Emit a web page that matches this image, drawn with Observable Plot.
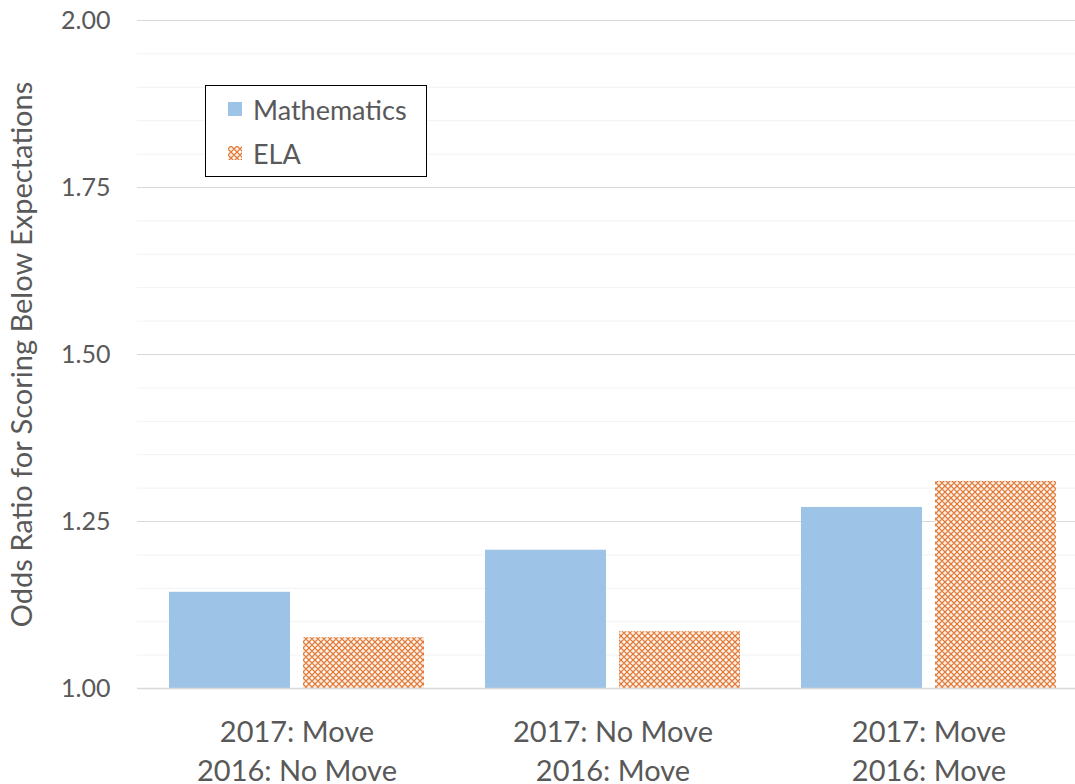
<!DOCTYPE html>
<html>
<head>
<meta charset="utf-8">
<script src="https://cdn.jsdelivr.net/npm/d3@7"></script>
<script src="https://cdn.jsdelivr.net/npm/@observablehq/plot@0.6"></script>
<style>
  body { margin: 0; background: #fff; font-family: Lato, "Open Sans", sans-serif; }
  #wrap { position: relative; width: 1075px; height: 784px; }
  #legend {
    position: absolute; left: 205px; top: 85px; width: 222px; height: 92px;
    border: 1px solid #000; background: #fff; box-sizing: border-box;
    font-family: Lato, sans-serif; font-size: 27px; color: #595959;
  }
  #legend .row { position: absolute; left: 22px; display: flex; align-items: center; height: 30px; }
  #legend .sw { width: 14px; height: 14px; margin-right: 11px; }
</style>
</head>
<body>
<div id="wrap"></div>
<script>
const categories = ["2017: Move\n2016: No Move", "2017: No Move\n2016: Move", "2017: Move\n2016: Move"];
const mathValues = [1.144, 1.207, 1.271];
const elaValues = [1.076, 1.085, 1.310];
const yTicks = [1.00, 1.25, 1.50, 1.75, 2.00];
const yMinorTicks = d3.range(1.05, 2.0, 0.05).filter(v => Math.abs(v * 4 - Math.round(v * 4)) > 1e-6);
const seriesNames = ["Mathematics", "ELA"];

const mathData = categories.map((c, i) => ({category: c, value: mathValues[i]}));
const elaData = categories.map((c, i) => ({category: c, value: elaValues[i]}));

const mathColor = "#9dc3e6";
const elaColor = "#e07b39";

const chart = Plot.plot({
  width: 1075,
  height: 784,
  marginLeft: 137,
  marginRight: 0,
  marginTop: 20,
  marginBottom: 96,
  style: {fontFamily: "Lato, 'Open Sans', sans-serif", color: "#595959", background: "#fff"},
  x: {domain: categories, range: [138.5, 1087], paddingInner: 0.192, paddingOuter: 0.096, label: null},
  y: {domain: [1, 2], label: null},
  marks: [
    Plot.ruleY(yMinorTicks, {stroke: "#f2f2f2", strokeWidth: 1}),
    Plot.ruleY(yTicks.slice(1), {stroke: "#d9d9d9", strokeWidth: 1}),
    Plot.barY(mathData, {x: "category", y1: 1, y2: "value", fill: mathColor, insetRight: 134}),
    Plot.barY(elaData, {x: "category", y1: 1, y2: "value", fill: "url(#elaPattern)", insetLeft: 134}),
    Plot.ruleY([1], {stroke: "#d9d9d9", strokeWidth: 1.5}),
    Plot.axisY({ticks: yTicks, tickFormat: d => d.toFixed(2), tickSize: 0, tickPadding: 27, fontSize: 25,
      label: "Odds Ratio for Scoring Below Expectations", labelAnchor: "center", labelArrow: "none", labelOffset: 126}),
    Plot.axisX({tickSize: 0, tickPadding: 26, fontSize: 29, lineHeight: 1.34, label: null})
  ]
});

// pattern for ELA bars
const svg = d3.select(chart);
const defs = svg.insert("defs", ":first-child");
const pat = defs.append("pattern").attr("id", "elaPattern").attr("patternUnits", "userSpaceOnUse")
  .attr("width", 6).attr("height", 6);
pat.append("rect").attr("width", 6).attr("height", 6).attr("fill", "#fff");
pat.append("path").attr("d", "M0,3 L3,0 L6,3 L3,6 Z").attr("fill", "none").attr("stroke", elaColor).attr("stroke-width", 1.4);
pat.append("rect").attr("x", 2.4).attr("y", 2.4).attr("width", 1.2).attr("height", 1.2).attr("fill", "#f6c9a9");

// y-axis label styling
svg.selectAll("g[aria-label='y-axis label'] text").attr("font-size", 29);

document.getElementById("wrap").appendChild(chart);

// legend
const legend = document.createElement("div");
legend.id = "legend";
legend.innerHTML = `
  <div class="row" style="top:8px"><div class="sw" style="background:${mathColor}"></div><span>${seriesNames[0]}</span></div>
  <div class="row" style="top:52px"><svg class="sw" width="14" height="14"><rect width="14" height="14" fill="url(#elaPattern)"/></svg><span>${seriesNames[1]}</span></div>`;
document.getElementById("wrap").appendChild(legend);
</script>
</body>
</html>
